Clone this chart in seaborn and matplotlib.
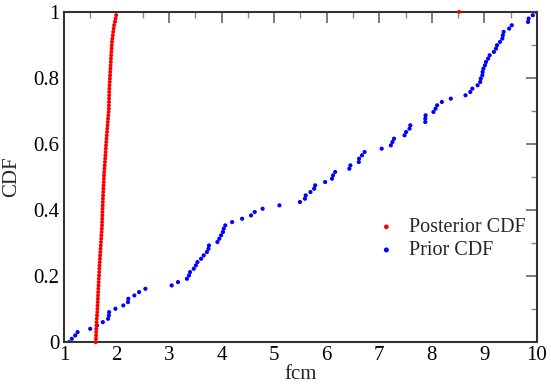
import numpy as np
import pandas as pd
import matplotlib
matplotlib.use("Agg")
import matplotlib.pyplot as plt
import seaborn as sns
from matplotlib.ticker import MultipleLocator

posterior_x = [
    1.605, 1.610, 1.612, 1.614, 1.616, 1.620, 1.622, 1.625, 1.630, 1.634,
    1.638, 1.640, 1.643, 1.646, 1.649, 1.652, 1.655, 1.658, 1.661, 1.664,
    1.668, 1.671, 1.674, 1.677, 1.681, 1.685, 1.689, 1.693, 1.697, 1.701,
    1.705, 1.709, 1.713, 1.717, 1.721, 1.725, 1.727, 1.729, 1.731, 1.733,
    1.735, 1.737, 1.740, 1.742, 1.745, 1.748, 1.751, 1.754, 1.757, 1.760,
    1.763, 1.767, 1.771, 1.776, 1.780, 1.785, 1.789, 1.793, 1.797, 1.801,
    1.805, 1.810, 1.815, 1.820, 1.825, 1.830, 1.835, 1.840, 1.845, 1.850,
    1.855, 1.856, 1.858, 1.859, 1.861, 1.862, 1.865, 1.868, 1.871, 1.875,
    1.878, 1.881, 1.885, 1.888, 1.892, 1.895, 1.899, 1.903, 1.907, 1.911,
    1.915, 1.922, 1.930, 1.938, 1.946, 1.955, 1.968, 1.982, 1.995, 8.52,
]

prior_x = [
    1.095, 1.15, 1.215, 1.26, 1.50, 1.63, 1.74, 1.84, 1.855, 1.86,
    1.98, 2.13, 2.22, 2.225, 2.34, 2.43, 2.55, 3.05, 3.17, 3.34,
    3.38, 3.40, 3.47, 3.51, 3.54, 3.61, 3.66, 3.72, 3.75, 3.76,
    3.92, 3.955, 3.99, 4.025, 4.04, 4.07, 4.20, 4.39, 4.56, 4.63,
    4.78, 5.10, 5.49, 5.585, 5.60, 5.69, 5.76, 5.78, 5.97, 6.10,
    6.12, 6.16, 6.43, 6.45, 6.61, 6.615, 6.67, 6.72, 7.045, 7.22,
    7.25, 7.28, 7.48, 7.51, 7.575, 7.59, 7.875, 7.875, 7.88, 8.03,
    8.07, 8.10, 8.19, 8.36, 8.64, 8.73, 8.77, 8.87, 8.92, 8.93,
    8.96, 8.965, 8.98, 9.01, 9.03, 9.07, 9.10, 9.18, 9.22, 9.24,
    9.295, 9.34, 9.35, 9.365, 9.47, 9.52, 9.83, 9.84, 9.92, 9.99,
]

series_names = ["Posterior CDF", "Prior CDF"]
series_colors = ["#ff0000", "#0000ff"]

def cdf_frame(xs, name):
    n = len(xs)
    return pd.DataFrame({"fcm": xs, "CDF": [i / (n - 1) for i in range(n)], "series": name})

df = pd.concat([cdf_frame(posterior_x, series_names[0]),
                cdf_frame(prior_x, series_names[1])], ignore_index=True)

sns.set_theme(style="white")
plt.rcParams["font.family"] = ["Liberation Serif", "DejaVu Serif"]

fig = plt.figure(figsize=(5.51, 3.84), dpi=100)
ax = fig.add_axes([0.116, 0.109, 0.8586, 0.860])

sns.scatterplot(data=df[df.series == series_names[1]], x="fcm", y="CDF",
                color=series_colors[1], s=9, edgecolor="none", ax=ax,
                label=series_names[1], zorder=2)
sns.scatterplot(data=df[df.series == series_names[0]], x="fcm", y="CDF",
                color=series_colors[0], s=8, edgecolor="none", ax=ax,
                label=series_names[0], zorder=3, clip_on=False)

ax.set_xlim(1, 10)
ax.set_ylim(0, 1)
ax.xaxis.set_major_locator(MultipleLocator(1))
ax.xaxis.set_minor_locator(MultipleLocator(0.5))
ax.yaxis.set_major_locator(MultipleLocator(0.2))
ax.yaxis.set_minor_locator(MultipleLocator(0.1))
ax.set_xticks(range(1, 11))
ax.set_xticklabels([str(v) for v in range(1, 11)])
ax.set_yticks([0, 0.2, 0.4, 0.6, 0.8, 1.0])
ax.set_yticklabels(["0", "0.2", "0.4", "0.6", "0.8", "1"])

ax.tick_params(which="major", direction="in", length=8, width=1.2, color="#666666",
               top=True, right=True, labelsize=15, pad=3, labelcolor="black")
ax.tick_params(which="minor", direction="in", length=4, width=1.0, color="#888888",
               top=True, right=True)
for sp in ax.spines.values():
    sp.set_color("#333333")
    sp.set_linewidth(1.5)

ax.set_xlabel("fcm", fontsize=15, labelpad=0)
ax.set_ylabel("CDF", fontsize=15, labelpad=9)

handles, labels = ax.get_legend_handles_labels()
order = [labels.index(series_names[0]), labels.index(series_names[1])]
ax.legend([handles[i] for i in order], [labels[i] for i in order],
          loc="center left", bbox_to_anchor=(0.622, 0.312), frameon=False,
          fontsize=14.5, handletextpad=0.6, labelspacing=0.2, markerscale=1.2,
          handlelength=1.0)

fig.savefig("out.png", dpi=100)
